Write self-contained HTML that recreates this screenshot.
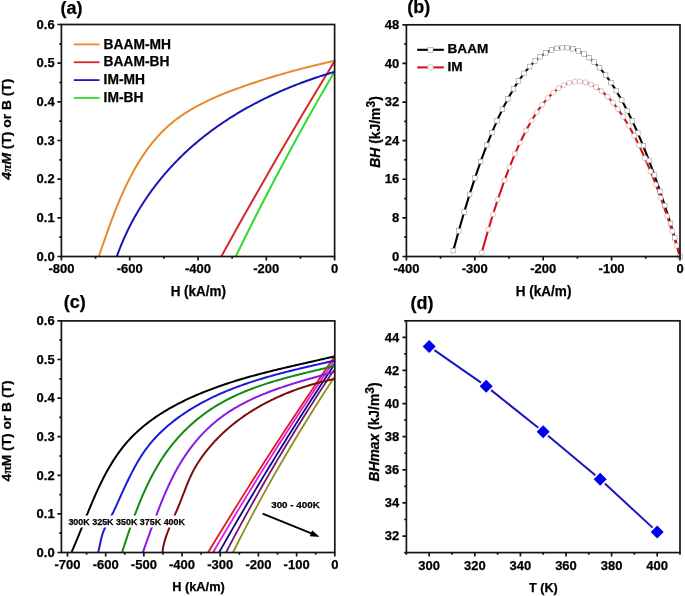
<!DOCTYPE html>
<html><head><meta charset="utf-8"><style>html,body{margin:0;padding:0;background:#fff;overflow:hidden}svg{display:block;will-change:transform}</style></head><body>
<svg width="685" height="596" viewBox="0 0 685 596">
<style>text{font-family:"Liberation Sans", sans-serif;font-weight:bold;fill:#000;stroke:#000;stroke-width:0.25px} .tk{font-size:13px} .ttl{font-size:14px} .pl{font-size:18px}</style>
<rect width="685" height="596" fill="#fff"/>
<path d="M221.27,256.5 L224.04,251.48 L226.82,246.45 L229.6,241.43 L232.4,236.41 L235.2,231.38 L238.01,226.36 L240.82,221.34 L243.65,216.32 L246.48,211.29 L249.32,206.27 L252.16,201.25 L255.02,196.22 L257.88,191.2 L260.75,186.18 L263.62,181.15 L266.51,176.13 L269.4,171.11 L272.3,166.08 L275.2,161.06 L278.11,156.04 L281.04,151.02 L283.96,145.99 L286.9,140.97 L289.84,135.95 L292.8,130.92 L295.75,125.9 L298.72,120.88 L301.69,115.85 L304.67,110.83 L307.66,105.81 L310.66,100.78 L313.66,95.76 L316.67,90.74 L319.69,85.72 L322.72,80.69 L325.75,75.67 L328.79,70.65 L331.84,65.62 L334.9,60.6" stroke="#D42A2A" stroke-width="2.0" fill="none" stroke-linejoin="round" stroke-linecap="butt"/>
<path d="M235.75,256.5 L238.06,251.75 L240.39,247.01 L242.72,242.26 L245.07,237.52 L247.43,232.77 L249.8,228.02 L252.18,223.28 L254.58,218.53 L256.98,213.78 L259.4,209.04 L261.83,204.29 L264.27,199.55 L266.72,194.8 L269.18,190.05 L271.66,185.31 L274.15,180.56 L276.65,175.82 L279.16,171.07 L281.68,166.32 L284.21,161.58 L286.76,156.83 L289.32,152.08 L291.89,147.34 L294.47,142.59 L297.06,137.85 L299.66,133.1 L302.28,128.35 L304.91,123.61 L307.55,118.86 L310.2,114.12 L312.86,109.37 L315.53,104.62 L318.22,99.88 L320.92,95.13 L323.63,90.38 L326.35,85.64 L329.08,80.89 L331.82,76.15 L334.58,71.4" stroke="#2EDB2E" stroke-width="2.0" fill="none" stroke-linejoin="round" stroke-linecap="butt"/>
<path d="M98.98,256.01 L99.49,254.53 L100,253.03 L100.52,251.54 L101.04,250.04 L101.55,248.53 L102.08,247.02 L102.6,245.5 L103.13,243.98 L103.65,242.45 L104.19,240.92 L104.72,239.39 L105.26,237.85 L105.8,236.31 L106.34,234.77 L106.89,233.22 L107.44,231.67 L107.99,230.12 L108.55,228.57 L109.11,227.01 L109.68,225.45 L110.25,223.89 L110.83,222.34 L111.4,220.77 L111.99,219.21 L112.58,217.65 L113.17,216.09 L113.77,214.53 L114.37,212.96 L114.98,211.4 L115.6,209.84 L116.22,208.28 L116.85,206.72 L117.48,205.17 L118.12,203.61 L118.76,202.06 L119.41,200.5 L120.07,198.95 L120.74,197.41 L121.41,195.86 L122.08,194.32 L122.77,192.78 L123.46,191.25 L124.16,189.72 L124.87,188.19 L125.58,186.67 L126.3,185.15 L127.04,183.64 L127.77,182.13 L128.52,180.63 L129.28,179.13 L130.04,177.63 L130.81,176.15 L131.59,174.67 L132.38,173.19 L133.18,171.72 L133.99,170.26 L134.8,168.81 L135.63,167.36 L136.47,165.92 L137.31,164.49 L138.17,163.07 L139.03,161.65 L139.91,160.25 L140.8,158.85 L141.69,157.46 L142.6,156.08 L143.52,154.71 L144.45,153.34 L145.39,151.99 L146.34,150.65 L147.3,149.32 L148.28,148 L149.26,146.69 L150.26,145.39 L151.27,144.1 L152.29,142.83 L153.32,141.56 L154.37,140.31 L155.42,139.07 L156.49,137.84 L157.58,136.62 L158.67,135.42 L159.78,134.23 L160.9,133.05 L162.04,131.89 L163.19,130.74 L164.35,129.61 L165.52,128.49 L166.71,127.38 L167.92,126.29 L169.13,125.21 L170.37,124.15 L171.61,123.11 L172.87,122.08 L174.15,121.06 L175.43,120.06 L176.73,119.07 L178.04,118.1 L179.37,117.14 L180.71,116.2 L182.06,115.26 L183.42,114.35 L184.79,113.44 L186.17,112.55 L187.57,111.67 L188.97,110.81 L190.38,109.95 L191.81,109.11 L193.24,108.28 L194.68,107.46 L196.13,106.66 L197.59,105.86 L199.06,105.08 L200.54,104.3 L202.02,103.54 L203.51,102.79 L205.01,102.05 L206.51,101.32 L208.02,100.59 L209.54,99.88 L211.06,99.18 L212.59,98.48 L214.12,97.8 L215.66,97.12 L217.2,96.45 L218.75,95.79 L220.3,95.14 L221.86,94.5 L223.42,93.86 L224.98,93.24 L226.54,92.61 L228.11,92 L229.68,91.39 L231.25,90.79 L232.82,90.2 L234.39,89.61 L235.97,89.03 L237.55,88.45 L239.12,87.88 L240.7,87.32 L242.27,86.76 L243.85,86.2 L245.42,85.65 L247,85.1 L248.57,84.56 L250.14,84.03 L251.72,83.49 L253.29,82.97 L254.86,82.44 L256.43,81.93 L258,81.41 L259.57,80.9 L261.15,80.4 L262.72,79.89 L264.29,79.4 L265.86,78.9 L267.43,78.41 L269.01,77.93 L270.58,77.45 L272.15,76.97 L273.73,76.5 L275.3,76.03 L276.88,75.56 L278.45,75.1 L280.03,74.64 L281.61,74.18 L283.19,73.73 L284.77,73.28 L286.35,72.84 L287.93,72.4 L289.51,71.96 L291.1,71.52 L292.69,71.09 L294.27,70.66 L295.86,70.23 L297.45,69.81 L299.04,69.39 L300.64,68.97 L302.23,68.56 L303.83,68.15 L305.43,67.74 L307.03,67.33 L308.64,66.93 L310.24,66.53 L311.85,66.13 L313.46,65.74 L315.07,65.34 L316.69,64.95 L318.3,64.56 L319.92,64.18 L321.54,63.79 L323.17,63.41 L324.8,63.03 L326.43,62.65 L328.06,62.27 L329.7,61.9 L331.33,61.53 L332.98,61.16 L334.62,60.79" stroke="#E8892A" stroke-width="2.0" fill="none" stroke-linejoin="round" stroke-linecap="butt"/>
<path d="M116.65,257.01 L117.16,255.56 L117.68,254.13 L118.21,252.69 L118.74,251.26 L119.29,249.84 L119.84,248.42 L120.4,247 L120.97,245.59 L121.55,244.18 L122.13,242.78 L122.72,241.38 L123.32,239.99 L123.93,238.6 L124.54,237.22 L125.17,235.84 L125.8,234.47 L126.44,233.1 L127.08,231.73 L127.74,230.37 L128.4,229.02 L129.07,227.67 L129.75,226.32 L130.43,224.98 L131.12,223.65 L131.82,222.32 L132.53,220.99 L133.24,219.67 L133.96,218.35 L134.69,217.04 L135.43,215.73 L136.17,214.43 L136.92,213.13 L137.68,211.84 L138.44,210.56 L139.21,209.27 L139.99,208 L140.78,206.72 L141.57,205.46 L142.37,204.2 L143.17,202.94 L143.99,201.69 L144.81,200.44 L145.63,199.2 L146.47,197.96 L147.31,196.73 L148.16,195.5 L149.01,194.28 L149.87,193.07 L150.74,191.85 L151.61,190.65 L152.49,189.45 L153.38,188.25 L154.27,187.06 L155.17,185.88 L156.08,184.7 L156.99,183.52 L157.91,182.35 L158.84,181.19 L159.77,180.03 L160.71,178.88 L161.65,177.73 L162.6,176.58 L163.56,175.45 L164.52,174.31 L165.49,173.19 L166.47,172.07 L167.45,170.95 L168.44,169.84 L169.43,168.73 L170.43,167.63 L171.43,166.54 L172.45,165.45 L173.46,164.37 L174.49,163.29 L175.51,162.22 L176.55,161.15 L177.59,160.09 L178.63,159.03 L179.68,157.98 L180.74,156.94 L181.8,155.9 L182.87,154.87 L183.95,153.84 L185.02,152.82 L186.11,151.8 L187.2,150.79 L188.29,149.79 L189.39,148.79 L190.5,147.79 L191.61,146.8 L192.73,145.82 L193.85,144.85 L194.98,143.88 L196.11,142.91 L197.25,141.95 L198.39,141 L199.54,140.05 L200.69,139.11 L201.84,138.17 L203.01,137.24 L204.17,136.32 L205.35,135.4 L206.52,134.48 L207.7,133.58 L208.89,132.67 L210.08,131.78 L211.27,130.89 L212.47,130 L213.68,129.12 L214.89,128.25 L216.1,127.38 L217.32,126.52 L218.54,125.66 L219.76,124.81 L220.99,123.97 L222.23,123.13 L223.47,122.29 L224.71,121.46 L225.95,120.64 L227.21,119.82 L228.46,119.01 L229.72,118.2 L230.98,117.4 L232.25,116.6 L233.52,115.81 L234.79,115.03 L236.07,114.25 L237.35,113.48 L238.63,112.71 L239.92,111.94 L241.21,111.19 L242.5,110.43 L243.8,109.69 L245.1,108.94 L246.41,108.21 L247.72,107.48 L249.03,106.75 L250.34,106.03 L251.66,105.32 L252.98,104.61 L254.3,103.9 L255.63,103.21 L256.96,102.51 L258.29,101.82 L259.63,101.14 L260.96,100.46 L262.31,99.79 L263.65,99.12 L264.99,98.46 L266.34,97.8 L267.69,97.15 L269.05,96.51 L270.41,95.87 L271.76,95.23 L273.13,94.6 L274.49,93.97 L275.85,93.35 L277.22,92.74 L278.59,92.13 L279.97,91.52 L281.34,90.92 L282.72,90.33 L284.1,89.74 L285.48,89.15 L286.86,88.57 L288.24,88 L289.63,87.43 L291.02,86.87 L292.41,86.31 L293.8,85.75 L295.19,85.2 L296.59,84.66 L297.98,84.12 L299.38,83.59 L300.78,83.06 L302.18,82.53 L303.59,82.01 L304.99,81.5 L306.39,80.99 L307.8,80.48 L309.21,79.98 L310.62,79.49 L312.03,79 L313.44,78.52 L314.85,78.04 L316.26,77.56 L317.68,77.09 L319.09,76.62 L320.51,76.16 L321.92,75.71 L323.34,75.26 L324.76,74.81 L326.18,74.37 L327.6,73.93 L329.02,73.5 L330.44,73.07 L331.86,72.65 L333.28,72.23 L334.7,71.82" stroke="#1616B4" stroke-width="2.0" fill="none" stroke-linejoin="round" stroke-linecap="butt"/>
<path d="M73.8,44.4 H99.5" stroke="#EC8A2B" stroke-width="1.8"/>
<text x="103.6" y="48.5" class="tk" style="font-size:13.8px">BAAM-MH</text>
<path d="M73.8,62.25 H99.5" stroke="#D42A2A" stroke-width="1.8"/>
<text x="103.6" y="66.35" class="tk" style="font-size:13.8px">BAAM-BH</text>
<path d="M73.8,80.1 H99.5" stroke="#1A1AC4" stroke-width="1.8"/>
<text x="103.6" y="84.2" class="tk" style="font-size:13.8px">IM-MH</text>
<path d="M73.8,97.95 H99.5" stroke="#2EDB2E" stroke-width="1.8"/>
<text x="103.6" y="102.05" class="tk" style="font-size:13.8px">IM-BH</text>
<path d="M61.4,256.5 V260.5 M129.7,256.5 V260.5 M198,256.5 V260.5 M266.3,256.5 V260.5 M334.6,256.5 V260.5 M95.55,256.5 V258.7 M163.85,256.5 V258.7 M232.15,256.5 V258.7 M300.45,256.5 V258.7 M61.4,256.5 H57.4 M61.4,217.83 H57.4 M61.4,179.17 H57.4 M61.4,140.5 H57.4 M61.4,101.83 H57.4 M61.4,63.17 H57.4 M61.4,24.5 H57.4 M61.4,237.17 H59.2 M61.4,198.5 H59.2 M61.4,159.83 H59.2 M61.4,121.17 H59.2 M61.4,82.5 H59.2 M61.4,43.83 H59.2" stroke="#141414" stroke-width="1.7" fill="none"/>
<rect x="61.4" y="24.5" width="273.2" height="232" stroke="#141414" stroke-width="1.7" fill="none"/>
<text x="61.4" y="273.1" text-anchor="middle" class="tk">-800</text>
<text x="129.7" y="273.1" text-anchor="middle" class="tk">-600</text>
<text x="198" y="273.1" text-anchor="middle" class="tk">-400</text>
<text x="266.3" y="273.1" text-anchor="middle" class="tk">-200</text>
<text x="334.6" y="273.1" text-anchor="middle" class="tk">0</text>
<text x="54.7" y="260.7" text-anchor="end" class="tk">0.0</text>
<text x="54.7" y="222.03" text-anchor="end" class="tk">0.1</text>
<text x="54.7" y="183.37" text-anchor="end" class="tk">0.2</text>
<text x="54.7" y="144.7" text-anchor="end" class="tk">0.3</text>
<text x="54.7" y="106.03" text-anchor="end" class="tk">0.4</text>
<text x="54.7" y="67.37" text-anchor="end" class="tk">0.5</text>
<text x="54.7" y="28.7" text-anchor="end" class="tk">0.6</text>
<text x="60.6" y="13.7" class="pl">(a)</text>
<text x="198.3" y="295.6" text-anchor="middle" textLength="55.3" lengthAdjust="spacingAndGlyphs" style="font-size:14px">H (kA/m)</text>
<text transform="translate(11.0,129.2) rotate(-90)" text-anchor="middle" textLength="101" lengthAdjust="spacingAndGlyphs" style="font-size:13.4px"><tspan font-style="italic">4<tspan style="font-family:'Liberation Serif',serif">π</tspan>M</tspan> (T) or B (T)</text>
<path d="M453.3,250.64 L458.7,230.97 L464.2,212.01 L469.6,194.42 L474.9,178.15 L480.7,161.47 L486.8,145.18 L491.9,132.55 L497,120.81 L502.4,109.35 L507.8,98.88 L513.5,88.9 L518.5,81.04 L524,73.37 L529.7,66.48 L535.1,60.94 L540.1,56.68 L545.8,52.81 L551.6,49.97 L556.8,48.35 L562.3,47.59 L567.3,47.73 L572.7,48.79 L578.4,50.91 L584,54 L589.1,57.66 L594.1,62.05 L599.5,67.66 L605.6,75.08 L611,82.6 L616.2,90.69 L621.7,100.15 L627.3,110.71 L632.3,120.94 L637.8,133.05 L643.1,145.58 L649,160.5 L654.4,175.05 L660.1,191.34 L664.8,205.47 L670.5,223.48 L674.8,237.68 L680,256.5" stroke="#000" stroke-width="2.1" fill="none" stroke-linejoin="round" stroke-linecap="butt"/>
<path d="M481.7,252.72 L488.4,229.33 L493,214.3 L497.8,199.5 L504.5,180.35 L509.5,167.19 L515,153.83 L520,142.69 L526,130.58 L531.5,120.67 L536.7,112.34 L542.1,104.76 L547.6,98.15 L553.2,92.56 L558.7,88.19 L563.9,85.07 L569.3,82.85 L574.8,81.67 L579.8,81.52 L585.4,82.41 L590.9,84.35 L596.1,87.15 L601.5,91.04 L607.6,96.64 L613,102.66 L618,109.11 L623.3,116.86 L628.7,125.71 L634.2,135.72 L639,145.27 L644.9,158.03 L650.5,171.18 L655.8,184.55 L660.7,197.7 L667.1,216.02 L672.1,231.23 L676.6,245.58 L680,256.5" stroke="#D41414" stroke-width="2.1" fill="none" stroke-linejoin="round" stroke-linecap="butt"/>
<rect x="451" y="248.34" width="4.6" height="4.6" fill="#fff" stroke="#999" stroke-width="0.6"/>
<rect x="456.4" y="228.67" width="4.6" height="4.6" fill="#fff" stroke="#999" stroke-width="0.6"/>
<rect x="461.9" y="209.71" width="4.6" height="4.6" fill="#fff" stroke="#999" stroke-width="0.6"/>
<rect x="467.3" y="192.12" width="4.6" height="4.6" fill="#fff" stroke="#999" stroke-width="0.6"/>
<rect x="472.6" y="175.85" width="4.6" height="4.6" fill="#fff" stroke="#999" stroke-width="0.6"/>
<rect x="478.4" y="159.17" width="4.6" height="4.6" fill="#fff" stroke="#999" stroke-width="0.6"/>
<rect x="484.5" y="142.88" width="4.6" height="4.6" fill="#fff" stroke="#999" stroke-width="0.6"/>
<rect x="489.6" y="130.25" width="4.6" height="4.6" fill="#fff" stroke="#999" stroke-width="0.6"/>
<rect x="494.7" y="118.51" width="4.6" height="4.6" fill="#fff" stroke="#999" stroke-width="0.6"/>
<rect x="500.1" y="107.05" width="4.6" height="4.6" fill="#fff" stroke="#999" stroke-width="0.6"/>
<rect x="505.5" y="96.58" width="4.6" height="4.6" fill="#fff" stroke="#999" stroke-width="0.6"/>
<rect x="511.2" y="86.6" width="4.6" height="4.6" fill="#fff" stroke="#999" stroke-width="0.6"/>
<rect x="516.2" y="78.74" width="4.6" height="4.6" fill="#fff" stroke="#999" stroke-width="0.6"/>
<rect x="521.7" y="71.07" width="4.6" height="4.6" fill="#fff" stroke="#999" stroke-width="0.6"/>
<rect x="527.4" y="64.18" width="4.6" height="4.6" fill="#fff" stroke="#999" stroke-width="0.6"/>
<rect x="532.8" y="58.64" width="4.6" height="4.6" fill="#fff" stroke="#999" stroke-width="0.6"/>
<rect x="537.8" y="54.38" width="4.6" height="4.6" fill="#fff" stroke="#999" stroke-width="0.6"/>
<rect x="543.5" y="50.51" width="4.6" height="4.6" fill="#fff" stroke="#999" stroke-width="0.6"/>
<rect x="549.3" y="47.67" width="4.6" height="4.6" fill="#fff" stroke="#999" stroke-width="0.6"/>
<rect x="554.5" y="46.05" width="4.6" height="4.6" fill="#fff" stroke="#999" stroke-width="0.6"/>
<rect x="560" y="45.29" width="4.6" height="4.6" fill="#fff" stroke="#999" stroke-width="0.6"/>
<rect x="565" y="45.43" width="4.6" height="4.6" fill="#fff" stroke="#999" stroke-width="0.6"/>
<rect x="570.4" y="46.49" width="4.6" height="4.6" fill="#fff" stroke="#999" stroke-width="0.6"/>
<rect x="576.1" y="48.61" width="4.6" height="4.6" fill="#fff" stroke="#999" stroke-width="0.6"/>
<rect x="581.7" y="51.7" width="4.6" height="4.6" fill="#fff" stroke="#999" stroke-width="0.6"/>
<rect x="586.8" y="55.36" width="4.6" height="4.6" fill="#fff" stroke="#999" stroke-width="0.6"/>
<rect x="591.8" y="59.75" width="4.6" height="4.6" fill="#fff" stroke="#999" stroke-width="0.6"/>
<rect x="597.2" y="65.36" width="4.6" height="4.6" fill="#fff" stroke="#999" stroke-width="0.6"/>
<rect x="603.3" y="72.78" width="4.6" height="4.6" fill="#fff" stroke="#999" stroke-width="0.6"/>
<rect x="608.7" y="80.3" width="4.6" height="4.6" fill="#fff" stroke="#999" stroke-width="0.6"/>
<rect x="613.9" y="88.39" width="4.6" height="4.6" fill="#fff" stroke="#999" stroke-width="0.6"/>
<rect x="619.4" y="97.85" width="4.6" height="4.6" fill="#fff" stroke="#999" stroke-width="0.6"/>
<rect x="625" y="108.41" width="4.6" height="4.6" fill="#fff" stroke="#999" stroke-width="0.6"/>
<rect x="630" y="118.64" width="4.6" height="4.6" fill="#fff" stroke="#999" stroke-width="0.6"/>
<rect x="635.5" y="130.75" width="4.6" height="4.6" fill="#fff" stroke="#999" stroke-width="0.6"/>
<rect x="640.8" y="143.28" width="4.6" height="4.6" fill="#fff" stroke="#999" stroke-width="0.6"/>
<rect x="646.7" y="158.2" width="4.6" height="4.6" fill="#fff" stroke="#999" stroke-width="0.6"/>
<rect x="652.1" y="172.75" width="4.6" height="4.6" fill="#fff" stroke="#999" stroke-width="0.6"/>
<rect x="657.8" y="189.04" width="4.6" height="4.6" fill="#fff" stroke="#999" stroke-width="0.6"/>
<rect x="662.5" y="203.17" width="4.6" height="4.6" fill="#fff" stroke="#999" stroke-width="0.6"/>
<rect x="668.2" y="221.18" width="4.6" height="4.6" fill="#fff" stroke="#999" stroke-width="0.6"/>
<rect x="672.5" y="235.38" width="4.6" height="4.6" fill="#fff" stroke="#999" stroke-width="0.6"/>
<rect x="677.7" y="254.2" width="4.6" height="4.6" fill="#fff" stroke="#999" stroke-width="0.6"/>
<circle cx="481.7" cy="252.72" r="2.55" fill="#fff" stroke="#c9a0a0" stroke-width="0.6"/>
<circle cx="488.4" cy="229.33" r="2.55" fill="#fff" stroke="#c9a0a0" stroke-width="0.6"/>
<circle cx="493" cy="214.3" r="2.55" fill="#fff" stroke="#c9a0a0" stroke-width="0.6"/>
<circle cx="497.8" cy="199.5" r="2.55" fill="#fff" stroke="#c9a0a0" stroke-width="0.6"/>
<circle cx="504.5" cy="180.35" r="2.55" fill="#fff" stroke="#c9a0a0" stroke-width="0.6"/>
<circle cx="509.5" cy="167.19" r="2.55" fill="#fff" stroke="#c9a0a0" stroke-width="0.6"/>
<circle cx="515" cy="153.83" r="2.55" fill="#fff" stroke="#c9a0a0" stroke-width="0.6"/>
<circle cx="520" cy="142.69" r="2.55" fill="#fff" stroke="#c9a0a0" stroke-width="0.6"/>
<circle cx="526" cy="130.58" r="2.55" fill="#fff" stroke="#c9a0a0" stroke-width="0.6"/>
<circle cx="531.5" cy="120.67" r="2.55" fill="#fff" stroke="#c9a0a0" stroke-width="0.6"/>
<circle cx="536.7" cy="112.34" r="2.55" fill="#fff" stroke="#c9a0a0" stroke-width="0.6"/>
<circle cx="542.1" cy="104.76" r="2.55" fill="#fff" stroke="#c9a0a0" stroke-width="0.6"/>
<circle cx="547.6" cy="98.15" r="2.55" fill="#fff" stroke="#c9a0a0" stroke-width="0.6"/>
<circle cx="553.2" cy="92.56" r="2.55" fill="#fff" stroke="#c9a0a0" stroke-width="0.6"/>
<circle cx="558.7" cy="88.19" r="2.55" fill="#fff" stroke="#c9a0a0" stroke-width="0.6"/>
<circle cx="563.9" cy="85.07" r="2.55" fill="#fff" stroke="#c9a0a0" stroke-width="0.6"/>
<circle cx="569.3" cy="82.85" r="2.55" fill="#fff" stroke="#c9a0a0" stroke-width="0.6"/>
<circle cx="574.8" cy="81.67" r="2.55" fill="#fff" stroke="#c9a0a0" stroke-width="0.6"/>
<circle cx="579.8" cy="81.52" r="2.55" fill="#fff" stroke="#c9a0a0" stroke-width="0.6"/>
<circle cx="585.4" cy="82.41" r="2.55" fill="#fff" stroke="#c9a0a0" stroke-width="0.6"/>
<circle cx="590.9" cy="84.35" r="2.55" fill="#fff" stroke="#c9a0a0" stroke-width="0.6"/>
<circle cx="596.1" cy="87.15" r="2.55" fill="#fff" stroke="#c9a0a0" stroke-width="0.6"/>
<circle cx="601.5" cy="91.04" r="2.55" fill="#fff" stroke="#c9a0a0" stroke-width="0.6"/>
<circle cx="607.6" cy="96.64" r="2.55" fill="#fff" stroke="#c9a0a0" stroke-width="0.6"/>
<circle cx="613" cy="102.66" r="2.55" fill="#fff" stroke="#c9a0a0" stroke-width="0.6"/>
<circle cx="618" cy="109.11" r="2.55" fill="#fff" stroke="#c9a0a0" stroke-width="0.6"/>
<circle cx="623.3" cy="116.86" r="2.55" fill="#fff" stroke="#c9a0a0" stroke-width="0.6"/>
<circle cx="628.7" cy="125.71" r="2.55" fill="#fff" stroke="#c9a0a0" stroke-width="0.6"/>
<circle cx="634.2" cy="135.72" r="2.55" fill="#fff" stroke="#c9a0a0" stroke-width="0.6"/>
<circle cx="639" cy="145.27" r="2.55" fill="#fff" stroke="#c9a0a0" stroke-width="0.6"/>
<circle cx="644.9" cy="158.03" r="2.55" fill="#fff" stroke="#c9a0a0" stroke-width="0.6"/>
<circle cx="650.5" cy="171.18" r="2.55" fill="#fff" stroke="#c9a0a0" stroke-width="0.6"/>
<circle cx="655.8" cy="184.55" r="2.55" fill="#fff" stroke="#c9a0a0" stroke-width="0.6"/>
<circle cx="660.7" cy="197.7" r="2.55" fill="#fff" stroke="#c9a0a0" stroke-width="0.6"/>
<circle cx="667.1" cy="216.02" r="2.55" fill="#fff" stroke="#c9a0a0" stroke-width="0.6"/>
<circle cx="672.1" cy="231.23" r="2.55" fill="#fff" stroke="#c9a0a0" stroke-width="0.6"/>
<circle cx="676.6" cy="245.58" r="2.55" fill="#fff" stroke="#c9a0a0" stroke-width="0.6"/>
<circle cx="680" cy="256.5" r="2.55" fill="#fff" stroke="#c9a0a0" stroke-width="0.6"/>
<path d="M417.2,49.8 H443.8" stroke="#000" stroke-width="2.1"/>
<rect x="428" y="47.3" width="5" height="5" fill="#fff" stroke="#999" stroke-width="0.6"/>
<path d="M417.2,67.4 H443.8" stroke="#D41414" stroke-width="2.1"/>
<circle cx="430.5" cy="67.4" r="2.8" fill="#fff" stroke="#c9a0a0" stroke-width="0.6"/>
<text x="447.5" y="53.2" style="font-size:13.6px">BAAM</text>
<text x="447.5" y="70.7" style="font-size:13.6px">IM</text>
<path d="M406.4,256.5 V260.5 M474.8,256.5 V260.5 M543.2,256.5 V260.5 M611.6,256.5 V260.5 M680,256.5 V260.5 M440.6,256.5 V258.7 M509,256.5 V258.7 M577.4,256.5 V258.7 M645.8,256.5 V258.7 M406.4,256.5 H402.4 M406.4,217.88 H402.4 M406.4,179.27 H402.4 M406.4,140.65 H402.4 M406.4,102.03 H402.4 M406.4,63.42 H402.4 M406.4,24.8 H402.4 M406.4,237.19 H404.2 M406.4,198.57 H404.2 M406.4,159.96 H404.2 M406.4,121.34 H404.2 M406.4,82.73 H404.2 M406.4,44.11 H404.2" stroke="#141414" stroke-width="1.7" fill="none"/>
<rect x="406.4" y="24.8" width="273.6" height="231.7" stroke="#141414" stroke-width="1.7" fill="none"/>
<text x="406.4" y="273.1" text-anchor="middle" class="tk">-400</text>
<text x="474.8" y="273.1" text-anchor="middle" class="tk">-300</text>
<text x="543.2" y="273.1" text-anchor="middle" class="tk">-200</text>
<text x="611.6" y="273.1" text-anchor="middle" class="tk">-100</text>
<text x="680" y="273.1" text-anchor="middle" class="tk">0</text>
<text x="399.2" y="260.7" text-anchor="end" class="tk">0</text>
<text x="399.2" y="222.08" text-anchor="end" class="tk">8</text>
<text x="399.2" y="183.47" text-anchor="end" class="tk">16</text>
<text x="399.2" y="144.85" text-anchor="end" class="tk">24</text>
<text x="399.2" y="106.23" text-anchor="end" class="tk">32</text>
<text x="399.2" y="67.62" text-anchor="end" class="tk">40</text>
<text x="399.2" y="29" text-anchor="end" class="tk">48</text>
<text x="407.3" y="13.4" class="pl">(b)</text>
<text x="543.6" y="296" text-anchor="middle" textLength="55.6" lengthAdjust="spacingAndGlyphs" style="font-size:14px">H (kA/m)</text>
<text transform="translate(380,132) rotate(-90)" text-anchor="middle" style="font-size:13.9px"><tspan font-style="italic">BH</tspan> (kJ/m<tspan dy="-4.6" style="font-size:12px">3</tspan><tspan dy="4.6">)</tspan></text>
<path d="M334.24,357.09 L330.8,362.1 L327.37,367.11 L323.95,372.12 L320.54,377.13 L317.14,382.14 L313.75,387.15 L310.38,392.16 L307.01,397.17 L303.65,402.18 L300.31,407.19 L296.98,412.2 L293.65,417.21 L290.34,422.22 L287.04,427.23 L283.75,432.24 L280.47,437.26 L277.21,442.27 L273.95,447.28 L270.7,452.29 L267.47,457.3 L264.24,462.31 L261.03,467.32 L257.82,472.33 L254.63,477.34 L251.45,482.35 L248.28,487.36 L245.12,492.37 L241.97,497.38 L238.83,502.39 L235.71,507.4 L232.59,512.41 L229.49,517.43 L226.39,522.44 L223.31,527.45 L220.24,532.46 L217.17,537.47 L214.12,542.48 L211.08,547.49 L208.05,552.5" stroke="#E01A1A" stroke-width="1.8" fill="none" stroke-linejoin="round" stroke-linecap="butt"/>
<path d="M334.58,360.29 L331.21,365.22 L327.86,370.15 L324.52,375.07 L321.2,380 L317.89,384.93 L314.59,389.86 L311.3,394.79 L308.03,399.72 L304.77,404.65 L301.52,409.57 L298.29,414.5 L295.07,419.43 L291.86,424.36 L288.67,429.29 L285.49,434.22 L282.32,439.14 L279.17,444.07 L276.02,449 L272.89,453.93 L269.78,458.86 L266.68,463.79 L263.59,468.72 L260.51,473.64 L257.45,478.57 L254.4,483.5 L251.36,488.43 L248.34,493.36 L245.33,498.29 L242.33,503.22 L239.34,508.14 L236.37,513.07 L233.41,518 L230.47,522.93 L227.53,527.86 L224.62,532.79 L221.71,537.71 L218.82,542.64 L215.94,547.57 L213.07,552.5" stroke="#E61AE6" stroke-width="1.8" fill="none" stroke-linejoin="round" stroke-linecap="butt"/>
<path d="M334.28,364.56 L331.1,369.38 L327.92,374.2 L324.76,379.02 L321.61,383.84 L318.48,388.66 L315.35,393.47 L312.24,398.29 L309.14,403.11 L306.05,407.93 L302.98,412.75 L299.91,417.57 L296.86,422.39 L293.82,427.21 L290.8,432.03 L287.78,436.84 L284.78,441.66 L281.79,446.48 L278.81,451.3 L275.84,456.12 L272.89,460.94 L269.94,465.76 L267.01,470.58 L264.1,475.4 L261.19,480.22 L258.29,485.03 L255.41,489.85 L252.54,494.67 L249.69,499.49 L246.84,504.31 L244.01,509.13 L241.19,513.95 L238.38,518.77 L235.58,523.59 L232.79,528.41 L230.02,533.22 L227.26,538.04 L224.51,542.86 L221.78,547.68 L219.05,552.5" stroke="#0A0A80" stroke-width="1.8" fill="none" stroke-linejoin="round" stroke-linecap="butt"/>
<path d="M334.05,369.9 L330.95,374.58 L327.86,379.26 L324.79,383.95 L321.74,388.63 L318.71,393.31 L315.69,397.99 L312.69,402.67 L309.71,407.36 L306.75,412.04 L303.8,416.72 L300.87,421.4 L297.96,426.08 L295.07,430.77 L292.19,435.45 L289.33,440.13 L286.49,444.81 L283.67,449.49 L280.86,454.18 L278.07,458.86 L275.3,463.54 L272.55,468.22 L269.81,472.9 L267.1,477.59 L264.39,482.27 L261.71,486.95 L259.04,491.63 L256.4,496.32 L253.76,501 L251.15,505.68 L248.55,510.36 L245.98,515.04 L243.41,519.73 L240.87,524.41 L238.34,529.09 L235.84,533.77 L233.34,538.45 L230.87,543.14 L228.41,547.82 L225.98,552.5" stroke="#7A107A" stroke-width="1.8" fill="none" stroke-linejoin="round" stroke-linecap="butt"/>
<path d="M334.31,377.37 L331.34,381.86 L328.4,386.36 L325.47,390.85 L322.56,395.34 L319.67,399.83 L316.81,404.32 L313.96,408.81 L311.13,413.3 L308.31,417.79 L305.52,422.28 L302.75,426.77 L300,431.26 L297.26,435.75 L294.55,440.24 L291.86,444.73 L289.18,449.22 L286.52,453.71 L283.89,458.2 L281.27,462.69 L278.67,467.18 L276.09,471.67 L273.53,476.16 L271,480.65 L268.47,485.14 L265.97,489.63 L263.49,494.12 L261.03,498.62 L258.59,503.11 L256.16,507.6 L253.76,512.09 L251.37,516.58 L249.01,521.07 L246.66,525.56 L244.33,530.05 L242.03,534.54 L239.74,539.03 L237.47,543.52 L235.22,548.01 L232.99,552.5" stroke="#8E8E1A" stroke-width="1.8" fill="none" stroke-linejoin="round" stroke-linecap="butt"/>
<path d="M71.64,551.89 L72.32,550.35 L73,548.81 L73.68,547.25 L74.35,545.69 L75.02,544.12 L75.69,542.55 L76.35,540.96 L77.02,539.37 L77.68,537.78 L78.34,536.17 L79,534.56 L79.66,532.95 L80.31,531.33 L80.97,529.7 L81.63,528.07 L82.29,526.44 L82.95,524.8 L83.61,523.16 L84.27,521.51 L84.93,519.87 L85.59,518.22 L86.26,516.57 L86.93,514.91 L87.6,513.26 L88.28,511.6 L88.96,509.95 L89.64,508.29 L90.33,506.64 L91.02,504.99 L91.72,503.33 L92.42,501.68 L93.13,500.03 L93.84,498.38 L94.56,496.74 L95.29,495.09 L96.02,493.45 L96.76,491.82 L97.5,490.18 L98.26,488.56 L99.02,486.93 L99.79,485.31 L100.56,483.7 L101.35,482.09 L102.15,480.49 L102.95,478.9 L103.77,477.31 L104.59,475.73 L105.43,474.15 L106.27,472.59 L107.13,471.03 L108,469.48 L108.88,467.94 L109.77,466.41 L110.67,464.89 L111.59,463.38 L112.51,461.88 L113.46,460.39 L114.41,458.91 L115.38,457.44 L116.36,455.98 L117.36,454.54 L118.37,453.11 L119.4,451.69 L120.44,450.29 L121.5,448.9 L122.57,447.52 L123.66,446.16 L124.77,444.81 L125.89,443.48 L127.03,442.16 L128.19,440.86 L129.36,439.57 L130.55,438.3 L131.76,437.05 L132.98,435.81 L134.22,434.58 L135.48,433.37 L136.75,432.18 L138.03,431 L139.33,429.83 L140.65,428.68 L141.98,427.54 L143.32,426.42 L144.67,425.31 L146.04,424.22 L147.42,423.14 L148.82,422.07 L150.22,421.02 L151.64,419.98 L153.07,418.95 L154.52,417.94 L155.97,416.93 L157.43,415.95 L158.91,414.97 L160.39,414.01 L161.89,413.06 L163.39,412.12 L164.91,411.2 L166.43,410.28 L167.96,409.38 L169.5,408.49 L171.05,407.61 L172.61,406.75 L174.17,405.89 L175.74,405.05 L177.32,404.21 L178.91,403.39 L180.5,402.58 L182.1,401.78 L183.7,400.99 L185.31,400.21 L186.93,399.44 L188.55,398.69 L190.17,397.94 L191.8,397.2 L193.43,396.47 L195.07,395.75 L196.71,395.04 L198.35,394.34 L200,393.65 L201.65,392.97 L203.3,392.3 L204.96,391.64 L206.61,390.98 L208.27,390.34 L209.93,389.7 L211.59,389.07 L213.25,388.45 L214.92,387.83 L216.59,387.23 L218.25,386.63 L219.92,386.04 L221.6,385.46 L223.27,384.89 L224.95,384.32 L226.62,383.76 L228.3,383.21 L229.98,382.66 L231.67,382.12 L233.35,381.58 L235.03,381.06 L236.72,380.54 L238.41,380.02 L240.1,379.51 L241.79,379.01 L243.48,378.51 L245.18,378.02 L246.87,377.53 L248.57,377.05 L250.27,376.57 L251.97,376.1 L253.67,375.63 L255.37,375.17 L257.07,374.71 L258.77,374.26 L260.48,373.81 L262.19,373.36 L263.89,372.92 L265.6,372.48 L267.31,372.05 L269.02,371.62 L270.74,371.19 L272.45,370.76 L274.16,370.34 L275.88,369.92 L277.59,369.51 L279.31,369.09 L281.03,368.68 L282.74,368.27 L284.46,367.87 L286.18,367.46 L287.91,367.06 L289.63,366.66 L291.35,366.26 L293.07,365.86 L294.8,365.47 L296.52,365.07 L298.25,364.68 L299.97,364.28 L301.7,363.89 L303.42,363.5 L305.15,363.11 L306.88,362.71 L308.61,362.32 L310.34,361.93 L312.07,361.54 L313.8,361.15 L315.53,360.76 L317.26,360.36 L318.99,359.97 L320.72,359.57 L322.45,359.18 L324.18,358.78 L325.91,358.38 L327.65,357.99 L329.38,357.58 L331.11,357.18 L332.85,356.78 L334.58,356.37" stroke="#000" stroke-width="2.0" fill="none" stroke-linejoin="round" stroke-linecap="butt"/>
<path d="M98.12,552.55 L98.54,550.93 L98.92,549.31 L99.28,547.69 L99.63,546.07 L99.97,544.46 L100.31,542.86 L100.65,541.26 L101.01,539.68 L101.39,538.1 L101.8,536.54 L102.24,534.99 L102.73,533.46 L103.27,531.95 L103.86,530.46 L104.49,528.98 L105.17,527.51 L105.88,526.06 L106.62,524.61 L107.38,523.17 L108.16,521.73 L108.95,520.3 L109.74,518.86 L110.53,517.42 L111.31,515.97 L112.08,514.51 L112.83,513.04 L113.56,511.57 L114.27,510.08 L114.98,508.59 L115.67,507.09 L116.35,505.59 L117.02,504.08 L117.7,502.58 L118.36,501.07 L119.03,499.57 L119.71,498.07 L120.38,496.57 L121.06,495.07 L121.74,493.58 L122.42,492.09 L123.1,490.6 L123.79,489.11 L124.49,487.63 L125.18,486.15 L125.89,484.66 L126.59,483.18 L127.31,481.7 L128.02,480.23 L128.74,478.75 L129.47,477.27 L130.21,475.8 L130.95,474.33 L131.7,472.86 L132.46,471.39 L133.22,469.93 L134,468.47 L134.78,467.01 L135.58,465.56 L136.39,464.12 L137.21,462.69 L138.04,461.26 L138.88,459.84 L139.74,458.43 L140.61,457.03 L141.49,455.64 L142.39,454.26 L143.31,452.9 L144.24,451.54 L145.19,450.2 L146.16,448.87 L147.14,447.55 L148.14,446.25 L149.16,444.96 L150.2,443.69 L151.25,442.43 L152.32,441.18 L153.4,439.94 L154.5,438.72 L155.61,437.51 L156.74,436.32 L157.88,435.13 L159.03,433.96 L160.2,432.8 L161.39,431.66 L162.58,430.53 L163.79,429.41 L165.01,428.3 L166.25,427.21 L167.49,426.12 L168.75,425.05 L170.02,424 L171.3,422.95 L172.59,421.92 L173.89,420.9 L175.2,419.89 L176.52,418.89 L177.85,417.91 L179.19,416.93 L180.54,415.97 L181.89,415.02 L183.26,414.08 L184.63,413.16 L186.01,412.24 L187.4,411.34 L188.79,410.45 L190.19,409.57 L191.6,408.7 L193.01,407.84 L194.43,406.99 L195.86,406.16 L197.29,405.33 L198.72,404.52 L200.16,403.72 L201.61,402.92 L203.06,402.14 L204.51,401.37 L205.97,400.61 L207.43,399.86 L208.9,399.12 L210.38,398.38 L211.85,397.66 L213.33,396.95 L214.82,396.25 L216.31,395.55 L217.8,394.87 L219.3,394.19 L220.8,393.53 L222.31,392.87 L223.82,392.22 L225.33,391.58 L226.85,390.95 L228.37,390.33 L229.89,389.71 L231.42,389.11 L232.95,388.51 L234.48,387.92 L236.02,387.33 L237.56,386.75 L239.1,386.19 L240.65,385.62 L242.2,385.07 L243.75,384.52 L245.3,383.98 L246.86,383.45 L248.42,382.92 L249.99,382.4 L251.55,381.88 L253.12,381.38 L254.69,380.87 L256.26,380.38 L257.84,379.89 L259.41,379.4 L260.99,378.92 L262.57,378.45 L264.15,377.98 L265.74,377.51 L267.32,377.05 L268.91,376.6 L270.5,376.15 L272.09,375.71 L273.69,375.27 L275.28,374.83 L276.88,374.4 L278.47,373.97 L280.07,373.55 L281.67,373.13 L283.27,372.71 L284.87,372.3 L286.47,371.89 L288.08,371.49 L289.68,371.08 L291.28,370.68 L292.89,370.29 L294.49,369.89 L296.1,369.5 L297.71,369.11 L299.31,368.73 L300.92,368.34 L302.53,367.96 L304.14,367.58 L305.74,367.2 L307.35,366.83 L308.96,366.45 L310.56,366.08 L312.17,365.71 L313.78,365.34 L315.38,364.97 L316.99,364.6 L318.6,364.23 L320.2,363.86 L321.8,363.5 L323.41,363.13 L325.01,362.76 L326.61,362.4 L328.21,362.03 L329.81,361.67 L331.41,361.3 L333.01,360.93 L334.6,360.57" stroke="#1A1AD8" stroke-width="2.0" fill="none" stroke-linejoin="round" stroke-linecap="butt"/>
<path d="M122.17,552.18 L122.62,550.76 L123.07,549.34 L123.53,547.92 L123.99,546.49 L124.44,545.06 L124.91,543.63 L125.37,542.2 L125.84,540.77 L126.31,539.34 L126.78,537.91 L127.26,536.47 L127.74,535.03 L128.22,533.6 L128.71,532.16 L129.2,530.72 L129.69,529.29 L130.18,527.85 L130.68,526.41 L131.19,524.97 L131.7,523.53 L132.21,522.1 L132.73,520.66 L133.25,519.22 L133.77,517.78 L134.3,516.35 L134.83,514.91 L135.37,513.48 L135.92,512.05 L136.47,510.61 L137.02,509.18 L137.58,507.75 L138.14,506.33 L138.71,504.9 L139.29,503.47 L139.87,502.05 L140.45,500.63 L141.04,499.21 L141.64,497.8 L142.24,496.38 L142.85,494.97 L143.47,493.56 L144.09,492.16 L144.72,490.75 L145.35,489.35 L146,487.96 L146.65,486.56 L147.3,485.18 L147.97,483.79 L148.64,482.41 L149.32,481.03 L150,479.66 L150.7,478.29 L151.4,476.93 L152.11,475.57 L152.83,474.22 L153.56,472.87 L154.29,471.53 L155.04,470.2 L155.79,468.87 L156.55,467.54 L157.32,466.22 L158.1,464.91 L158.89,463.61 L159.69,462.31 L160.5,461.01 L161.32,459.73 L162.15,458.45 L162.99,457.18 L163.84,455.92 L164.7,454.66 L165.57,453.41 L166.45,452.17 L167.34,450.94 L168.24,449.72 L169.15,448.5 L170.08,447.3 L171.01,446.1 L171.96,444.91 L172.91,443.73 L173.88,442.55 L174.85,441.39 L175.84,440.23 L176.84,439.09 L177.84,437.95 L178.86,436.82 L179.88,435.7 L180.92,434.59 L181.97,433.49 L183.02,432.4 L184.09,431.32 L185.16,430.25 L186.24,429.19 L187.34,428.13 L188.44,427.09 L189.55,426.05 L190.67,425.03 L191.8,424.02 L192.94,423.01 L194.09,422.02 L195.24,421.03 L196.41,420.06 L197.58,419.1 L198.76,418.14 L199.95,417.2 L201.15,416.27 L202.36,415.35 L203.57,414.43 L204.8,413.53 L206.03,412.64 L207.27,411.76 L208.51,410.9 L209.77,410.04 L211.03,409.19 L212.3,408.36 L213.58,407.53 L214.86,406.72 L216.16,405.92 L217.46,405.13 L218.76,404.35 L220.08,403.58 L221.4,402.82 L222.73,402.08 L224.06,401.34 L225.4,400.62 L226.75,399.91 L228.11,399.2 L229.47,398.51 L230.83,397.83 L232.21,397.16 L233.58,396.5 L234.97,395.84 L236.36,395.2 L237.75,394.57 L239.15,393.94 L240.55,393.33 L241.96,392.72 L243.38,392.12 L244.8,391.54 L246.22,390.96 L247.65,390.38 L249.08,389.82 L250.51,389.26 L251.95,388.72 L253.4,388.18 L254.85,387.64 L256.3,387.12 L257.75,386.6 L259.21,386.09 L260.67,385.59 L262.13,385.09 L263.6,384.6 L265.06,384.12 L266.54,383.64 L268.01,383.17 L269.48,382.71 L270.96,382.25 L272.44,381.79 L273.92,381.35 L275.41,380.9 L276.89,380.47 L278.38,380.03 L279.86,379.61 L281.35,379.19 L282.84,378.77 L284.33,378.36 L285.82,377.95 L287.31,377.54 L288.81,377.14 L290.3,376.75 L291.79,376.36 L293.28,375.97 L294.77,375.58 L296.27,375.2 L297.76,374.82 L299.25,374.45 L300.74,374.07 L302.23,373.71 L303.71,373.34 L305.2,372.97 L306.69,372.61 L308.17,372.25 L309.65,371.89 L311.14,371.53 L312.61,371.18 L314.09,370.83 L315.57,370.47 L317.04,370.12 L318.51,369.77 L319.98,369.42 L321.44,369.07 L322.91,368.73 L324.36,368.38 L325.82,368.03 L327.27,367.69 L328.72,367.34 L330.17,366.99 L331.61,366.64 L333.05,366.3 L334.49,365.95" stroke="#128A12" stroke-width="2.0" fill="none" stroke-linejoin="round" stroke-linecap="butt"/>
<path d="M142.95,552.18 L143.42,550.87 L143.88,549.56 L144.34,548.25 L144.8,546.94 L145.27,545.63 L145.73,544.31 L146.2,543 L146.67,541.68 L147.13,540.36 L147.6,539.04 L148.07,537.72 L148.54,536.4 L149.02,535.08 L149.49,533.76 L149.97,532.43 L150.45,531.11 L150.92,529.79 L151.41,528.46 L151.89,527.14 L152.37,525.81 L152.86,524.48 L153.35,523.16 L153.84,521.83 L154.33,520.51 L154.83,519.18 L155.33,517.85 L155.83,516.53 L156.33,515.2 L156.84,513.88 L157.34,512.55 L157.85,511.23 L158.37,509.9 L158.88,508.58 L159.4,507.26 L159.93,505.93 L160.45,504.61 L160.98,503.29 L161.52,501.97 L162.05,500.66 L162.59,499.34 L163.14,498.03 L163.69,496.71 L164.24,495.4 L164.8,494.09 L165.36,492.79 L165.93,491.48 L166.51,490.18 L167.09,488.88 L167.67,487.59 L168.26,486.29 L168.86,485 L169.46,483.72 L170.07,482.43 L170.68,481.15 L171.3,479.88 L171.93,478.6 L172.57,477.33 L173.21,476.07 L173.86,474.81 L174.52,473.55 L175.18,472.3 L175.86,471.05 L176.54,469.81 L177.22,468.57 L177.92,467.34 L178.63,466.12 L179.34,464.89 L180.06,463.68 L180.79,462.47 L181.54,461.26 L182.29,460.06 L183.04,458.87 L183.81,457.68 L184.59,456.5 L185.38,455.33 L186.17,454.16 L186.97,453 L187.79,451.84 L188.61,450.69 L189.44,449.55 L190.28,448.42 L191.13,447.29 L191.99,446.18 L192.86,445.06 L193.73,443.96 L194.62,442.87 L195.51,441.78 L196.41,440.7 L197.32,439.63 L198.25,438.56 L199.18,437.51 L200.11,436.46 L201.06,435.43 L202.02,434.4 L202.98,433.38 L203.96,432.37 L204.94,431.37 L205.94,430.38 L206.94,429.39 L207.95,428.42 L208.97,427.46 L209.99,426.51 L211.03,425.56 L212.08,424.63 L213.13,423.71 L214.2,422.8 L215.27,421.9 L216.35,421.01 L217.44,420.13 L218.54,419.26 L219.65,418.4 L220.76,417.55 L221.89,416.72 L223.02,415.89 L224.17,415.08 L225.32,414.27 L226.47,413.48 L227.64,412.7 L228.81,411.92 L229.99,411.16 L231.18,410.41 L232.38,409.66 L233.58,408.93 L234.79,408.2 L236.01,407.49 L237.23,406.78 L238.46,406.08 L239.69,405.39 L240.94,404.71 L242.18,404.04 L243.44,403.38 L244.7,402.73 L245.96,402.08 L247.23,401.44 L248.51,400.81 L249.79,400.19 L251.08,399.58 L252.37,398.97 L253.66,398.38 L254.96,397.78 L256.27,397.2 L257.58,396.63 L258.89,396.06 L260.21,395.5 L261.53,394.94 L262.85,394.39 L264.18,393.85 L265.51,393.32 L266.85,392.79 L268.19,392.27 L269.53,391.75 L270.87,391.24 L272.22,390.74 L273.57,390.24 L274.92,389.75 L276.27,389.26 L277.63,388.78 L278.98,388.31 L280.34,387.84 L281.71,387.37 L283.07,386.91 L284.43,386.46 L285.8,386.01 L287.16,385.56 L288.53,385.12 L289.9,384.68 L291.26,384.25 L292.63,383.82 L294,383.4 L295.37,382.98 L296.74,382.56 L298.11,382.15 L299.48,381.74 L300.85,381.33 L302.21,380.93 L303.58,380.53 L304.95,380.13 L306.31,379.74 L307.68,379.35 L309.04,378.96 L310.4,378.57 L311.76,378.19 L313.12,377.81 L314.47,377.43 L315.83,377.05 L317.18,376.68 L318.53,376.31 L319.88,375.94 L321.22,375.57 L322.56,375.2 L323.9,374.83 L325.23,374.47 L326.57,374.1 L327.9,373.74 L329.22,373.38 L330.54,373.02 L331.86,372.66 L333.17,372.3 L334.48,371.94" stroke="#8A1AE6" stroke-width="2.0" fill="none" stroke-linejoin="round" stroke-linecap="butt"/>
<path d="M162.49,552.37 L162.63,551.06 L162.8,549.76 L163,548.46 L163.22,547.18 L163.48,545.9 L163.76,544.63 L164.06,543.37 L164.38,542.12 L164.72,540.87 L165.09,539.62 L165.47,538.39 L165.87,537.15 L166.28,535.93 L166.71,534.7 L167.16,533.48 L167.61,532.27 L168.07,531.05 L168.55,529.84 L169.03,528.63 L169.52,527.42 L170.01,526.22 L170.51,525.01 L171.02,523.81 L171.52,522.6 L172.04,521.4 L172.55,520.19 L173.07,518.99 L173.59,517.78 L174.11,516.58 L174.63,515.38 L175.15,514.17 L175.67,512.97 L176.19,511.76 L176.71,510.55 L177.23,509.35 L177.74,508.14 L178.25,506.92 L178.76,505.71 L179.26,504.5 L179.76,503.28 L180.26,502.06 L180.74,500.84 L181.23,499.62 L181.7,498.4 L182.18,497.17 L182.65,495.95 L183.12,494.72 L183.59,493.49 L184.06,492.27 L184.52,491.04 L184.99,489.81 L185.47,488.59 L185.94,487.37 L186.42,486.15 L186.91,484.93 L187.39,483.71 L187.89,482.5 L188.4,481.29 L188.91,480.08 L189.43,478.88 L189.96,477.69 L190.5,476.49 L191.06,475.31 L191.62,474.13 L192.2,472.95 L192.8,471.78 L193.41,470.62 L194.03,469.46 L194.67,468.31 L195.32,467.17 L195.98,466.04 L196.66,464.91 L197.35,463.78 L198.05,462.67 L198.77,461.56 L199.49,460.46 L200.23,459.36 L200.98,458.28 L201.74,457.2 L202.51,456.12 L203.29,455.06 L204.08,454 L204.88,452.95 L205.69,451.9 L206.51,450.87 L207.33,449.84 L208.17,448.81 L209.01,447.8 L209.86,446.79 L210.72,445.79 L211.58,444.8 L212.45,443.82 L213.33,442.84 L214.22,441.87 L215.12,440.91 L216.02,439.95 L216.93,439.01 L217.85,438.07 L218.77,437.13 L219.7,436.21 L220.64,435.29 L221.58,434.38 L222.53,433.48 L223.49,432.58 L224.46,431.69 L225.43,430.81 L226.4,429.94 L227.39,429.07 L228.38,428.21 L229.38,427.36 L230.38,426.51 L231.39,425.67 L232.4,424.84 L233.42,424.02 L234.45,423.2 L235.48,422.4 L236.52,421.59 L237.57,420.8 L238.62,420.01 L239.67,419.23 L240.73,418.46 L241.8,417.69 L242.87,416.93 L243.95,416.18 L245.03,415.43 L246.12,414.7 L247.21,413.96 L248.31,413.24 L249.41,412.52 L250.52,411.81 L251.63,411.11 L252.75,410.41 L253.87,409.72 L255,409.04 L256.13,408.37 L257.26,407.7 L258.4,407.04 L259.55,406.38 L260.69,405.73 L261.85,405.09 L263,404.46 L264.16,403.83 L265.33,403.21 L266.5,402.6 L267.67,401.99 L268.84,401.39 L270.02,400.8 L271.21,400.21 L272.39,399.63 L273.58,399.06 L274.78,398.49 L275.97,397.93 L277.17,397.38 L278.38,396.83 L279.58,396.29 L280.79,395.76 L282,395.23 L283.22,394.71 L284.44,394.2 L285.66,393.69 L286.88,393.19 L288.11,392.7 L289.33,392.21 L290.57,391.73 L291.8,391.26 L293.03,390.79 L294.27,390.33 L295.51,389.88 L296.75,389.43 L298,388.99 L299.24,388.56 L300.49,388.13 L301.74,387.71 L302.99,387.29 L304.25,386.88 L305.5,386.48 L306.76,386.08 L308.02,385.7 L309.27,385.31 L310.54,384.94 L311.8,384.56 L313.06,384.2 L314.32,383.84 L315.59,383.49 L316.85,383.15 L318.12,382.81 L319.39,382.47 L320.66,382.15 L321.93,381.83 L323.2,381.51 L324.47,381.21 L325.74,380.9 L327.01,380.61 L328.28,380.32 L329.55,380.04 L330.82,379.76 L332.1,379.49 L333.37,379.22 L334.64,378.97" stroke="#7A0E0E" stroke-width="2.0" fill="none" stroke-linejoin="round" stroke-linecap="butt"/>
<rect x="67" y="515.5" width="121" height="12" fill="#fff"/>
<text x="68.4" y="524.8" style="font-size:9.4px" textLength="116.6" lengthAdjust="spacingAndGlyphs">300K 325K 350K 375K 400K</text>
<text x="271.2" y="507.8" style="font-size:9.6px" textLength="48.6" lengthAdjust="spacingAndGlyphs">300 - 400K</text>
<path d="M262.6,513.7 L312,533.6" stroke="#000" stroke-width="1.9"/>
<path d="M318.9,536.5 L310.2,536 L312.3,530.8 Z" fill="#000" stroke="#000" stroke-width="0.6" stroke-linejoin="round"/>
<path d="M67.51,552.5 V556.5 M105.69,552.5 V556.5 M143.88,552.5 V556.5 M182.06,552.5 V556.5 M220.25,552.5 V556.5 M258.43,552.5 V556.5 M296.62,552.5 V556.5 M334.8,552.5 V556.5 M86.6,552.5 V554.7 M124.79,552.5 V554.7 M162.97,552.5 V554.7 M201.15,552.5 V554.7 M239.34,552.5 V554.7 M277.52,552.5 V554.7 M315.71,552.5 V554.7 M61.4,552.5 H57.4 M61.4,513.9 H57.4 M61.4,475.3 H57.4 M61.4,436.7 H57.4 M61.4,398.1 H57.4 M61.4,359.5 H57.4 M61.4,320.9 H57.4 M61.4,533.2 H59.2 M61.4,494.6 H59.2 M61.4,456 H59.2 M61.4,417.4 H59.2 M61.4,378.8 H59.2 M61.4,340.2 H59.2" stroke="#141414" stroke-width="1.7" fill="none"/>
<rect x="61.4" y="320.9" width="273.4" height="231.6" stroke="#141414" stroke-width="1.7" fill="none"/>
<text x="67.51" y="569.1" text-anchor="middle" class="tk">-700</text>
<text x="105.69" y="569.1" text-anchor="middle" class="tk">-600</text>
<text x="143.88" y="569.1" text-anchor="middle" class="tk">-500</text>
<text x="182.06" y="569.1" text-anchor="middle" class="tk">-400</text>
<text x="220.25" y="569.1" text-anchor="middle" class="tk">-300</text>
<text x="258.43" y="569.1" text-anchor="middle" class="tk">-200</text>
<text x="296.62" y="569.1" text-anchor="middle" class="tk">-100</text>
<text x="334.8" y="569.1" text-anchor="middle" class="tk">0</text>
<text x="54.7" y="556.7" text-anchor="end" class="tk">0.0</text>
<text x="54.7" y="518.1" text-anchor="end" class="tk">0.1</text>
<text x="54.7" y="479.5" text-anchor="end" class="tk">0.2</text>
<text x="54.7" y="440.9" text-anchor="end" class="tk">0.3</text>
<text x="54.7" y="402.3" text-anchor="end" class="tk">0.4</text>
<text x="54.7" y="363.7" text-anchor="end" class="tk">0.5</text>
<text x="54.7" y="325.1" text-anchor="end" class="tk">0.6</text>
<text x="63.8" y="308.0" class="pl">(c)</text>
<text x="198.5" y="590.8" text-anchor="middle" style="font-size:12.8px">H (kA/m)</text>
<text transform="translate(11.1,431) rotate(-90)" text-anchor="middle" textLength="101" lengthAdjust="spacingAndGlyphs" style="font-size:13.4px">4<tspan style="font-family:'Liberation Serif',serif">π</tspan>M (T) or B (T)</text>
<path d="M434.37,350.07 L481.03,382.6 M491.12,390.13 L538.28,427.8 M548.04,435.77 L595.36,475.22 M604.83,483.53 L652.57,527.63" stroke="#1818C0" stroke-width="2" fill="none"/>
<path d="M429.2,339.96 L435.7,346.46 L429.2,352.96 L422.7,346.46 Z" fill="#0000F0"/>
<path d="M486.2,379.7 L492.7,386.2 L486.2,392.7 L479.7,386.2 Z" fill="#0000F0"/>
<path d="M543.2,425.23 L549.7,431.73 L543.2,438.23 L536.7,431.73 Z" fill="#0000F0"/>
<path d="M600.2,472.75 L606.7,479.25 L600.2,485.75 L593.7,479.25 Z" fill="#0000F0"/>
<path d="M657.2,525.4 L663.7,531.9 L657.2,538.4 L650.7,531.9 Z" fill="#0000F0"/>
<path d="M429.2,552.6 V556.6 M474.8,552.6 V556.6 M520.4,552.6 V556.6 M566,552.6 V556.6 M611.6,552.6 V556.6 M657.2,552.6 V556.6 M406.4,552.6 V554.8 M452,552.6 V554.8 M497.6,552.6 V554.8 M543.2,552.6 V554.8 M588.8,552.6 V554.8 M634.4,552.6 V554.8 M680,552.6 V554.8 M406.4,536.04 H402.4 M406.4,502.93 H402.4 M406.4,469.81 H402.4 M406.4,436.7 H402.4 M406.4,403.59 H402.4 M406.4,370.47 H402.4 M406.4,337.36 H402.4 M406.4,552.6 H404.2 M406.4,519.49 H404.2 M406.4,486.37 H404.2 M406.4,453.26 H404.2 M406.4,420.14 H404.2 M406.4,387.03 H404.2 M406.4,353.91 H404.2 M406.4,320.8 H404.2" stroke="#141414" stroke-width="1.7" fill="none"/>
<rect x="406.4" y="320.8" width="273.6" height="231.8" stroke="#141414" stroke-width="1.7" fill="none"/>
<text x="429.2" y="569.5" text-anchor="middle" class="tk">300</text>
<text x="474.8" y="569.5" text-anchor="middle" class="tk">320</text>
<text x="520.4" y="569.5" text-anchor="middle" class="tk">340</text>
<text x="566" y="569.5" text-anchor="middle" class="tk">360</text>
<text x="611.6" y="569.5" text-anchor="middle" class="tk">380</text>
<text x="657.2" y="569.5" text-anchor="middle" class="tk">400</text>
<text x="399.2" y="540.24" text-anchor="end" class="tk">32</text>
<text x="399.2" y="507.13" text-anchor="end" class="tk">34</text>
<text x="399.2" y="474.01" text-anchor="end" class="tk">36</text>
<text x="399.2" y="440.9" text-anchor="end" class="tk">38</text>
<text x="399.2" y="407.79" text-anchor="end" class="tk">40</text>
<text x="399.2" y="374.67" text-anchor="end" class="tk">42</text>
<text x="399.2" y="341.56" text-anchor="end" class="tk">44</text>
<text x="410.6" y="309.3" class="pl">(d)</text>
<text x="543.4" y="591.5" text-anchor="middle" style="font-size:12.6px">T (K)</text>
<text transform="translate(378.8,432) rotate(-90)" text-anchor="middle" style="font-size:13.85px"><tspan font-style="italic">BHmax</tspan> (kJ/m<tspan dy="-4.6" style="font-size:12px">3</tspan><tspan dy="4.6">)</tspan></text>
</svg>
</body></html>
